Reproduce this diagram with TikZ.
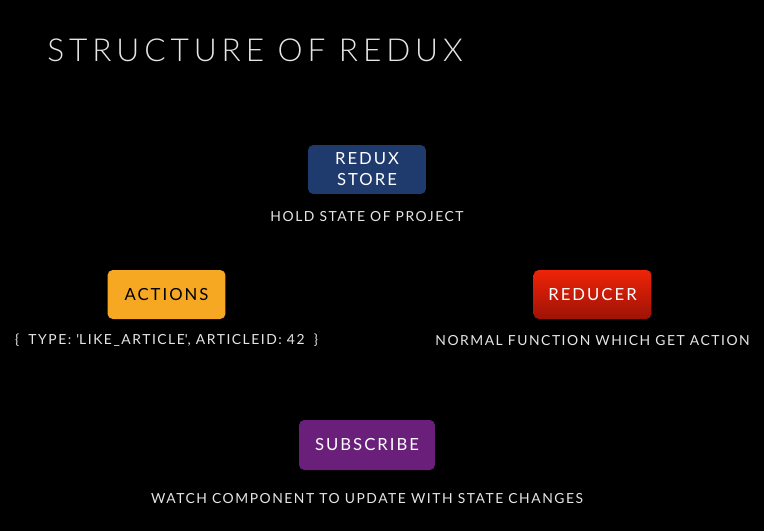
\documentclass[tikz,border=0pt]{standalone}
\usepackage{fontspec}
\setmainfont{Lato}[LetterSpace=12]
\newfontfamily\titlefont{Lato Light}[LetterSpace=15.5]
\newfontfamily\notefont{Lato}[LetterSpace=11]
\usetikzlibrary{positioning}
\definecolor{storeblue}{HTML}{1F3A6D}
\definecolor{actionorange}{HTML}{F7A822}
\definecolor{reducertop}{HTML}{EE2408}
\definecolor{reducerbottom}{HTML}{9E1206}
\definecolor{subpurple}{HTML}{6A1F7A}
\definecolor{notegray}{HTML}{E6E6E6}
\begin{document}
\begin{tikzpicture}[x=0.02cm,y=-0.02cm]
    \tikzstyle{box}=[rounded corners=3pt, minimum width=2.36cm, minimum height=0.98cm,
        align=center, text=white, font=\fontsize{9.5}{12}\selectfont];
    \tikzstyle{note}=[text=notegray, inner sep=0pt, font=\notefont\fontsize{7.9}{9}\selectfont];
    \fill[black] (0,0) rectangle (764,531);
    \node[anchor=base west, inner sep=0pt, text=notegray, font=\titlefont\fontsize{18}{20}\selectfont] (title) at (47,61) {STRUCTURE OF REDUX};
    \node[box, fill=storeblue] (store) at (367,169.5) {REDUX\\STORE};
    \node[box, fill=actionorange, text=black] (actions) at (166.5,294.5) {ACTIONS};
    \node[box, top color=reducertop, bottom color=reducerbottom] (reducer) at (592.5,294.5) {REDUCER};
    \node[box, fill=subpurple, minimum width=2.72cm, minimum height=1cm] (subscribe) at (367,445) {SUBSCRIBE};
    \node[note, below=0.34cm of store] (storenote) {HOLD STATE OF PROJECT};
    \node[note, below=0.28cm of actions] (actionsnote) {\{\hspace{2.4pt} TYPE: \textquotesingle LIKE\_ARTICLE\textquotesingle, ARTICLEID: 42\hspace{2.4pt} \}};
    \node[note, below=0.32cm of reducer] (reducernote) {NORMAL FUNCTION WHICH GET ACTION};
    \node[note, below=0.46cm of subscribe] (subscribenote) {WATCH COMPONENT TO UPDATE WITH STATE CHANGES};
\end{tikzpicture}
\end{document}
